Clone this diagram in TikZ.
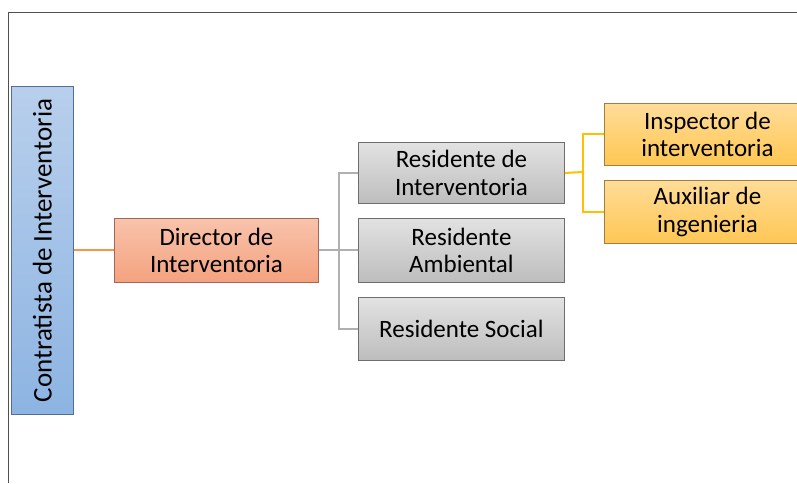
\documentclass[tikz,border=0pt]{standalone}
\usepackage{fontspec}
\setmainfont{Carlito}
\usetikzlibrary{positioning}
\definecolor{bluetop}{HTML}{B8CFEC}
\definecolor{bluebot}{HTML}{8DB4E2}
\definecolor{blueedge}{HTML}{4F6E99}
\definecolor{ortop}{HTML}{F8C3AC}
\definecolor{orbot}{HTML}{F4A27E}
\definecolor{oredge}{HTML}{A0675A}
\definecolor{graytop}{HTML}{E2E2E2}
\definecolor{graybot}{HTML}{BDBDBD}
\definecolor{grayedge}{HTML}{6E6E6E}
\definecolor{yeltop}{HTML}{FFDC98}
\definecolor{yelbot}{HTML}{FFC753}
\definecolor{yeledge}{HTML}{A08040}
\definecolor{orline}{HTML}{F79646}
\definecolor{grayline}{HTML}{B0B0B0}
\definecolor{yelline}{HTML}{FFC000}
\definecolor{frame}{HTML}{505050}
\tikzset{
  box/.style={draw, line width=0.9pt, anchor=north west, align=center, inner sep=0pt,
    font=\fontsize{25}{27.5}\selectfont, text=black},
  bluebox/.style={box, draw=blueedge, top color=bluetop, bottom color=bluebot},
  orbox/.style={box, draw=oredge, top color=ortop, bottom color=orbot},
  graybox/.style={box, draw=grayedge, top color=graytop, bottom color=graybot},
  yelbox/.style={box, draw=yeledge, top color=yeltop, bottom color=yelbot},
  link/.style={line width=2pt},
}
\begin{document}
\begin{tikzpicture}[x=1pt,y=-1pt]
\useasboundingbox (0,0) rectangle (797,483);
\begin{scope}
\clip (0,0) rectangle (797,483);
% frame
\draw[frame, line width=1pt] (8,483) -- (8,12) -- (797,12);
% boxes
\node[bluebox, minimum width=62pt, minimum height=328pt] (contr) at (11,86) {};
\node[rotate=90, font=\fontsize{27}{30}\selectfont] (contrtext) at (contr.center) {Contratista de Interventoria};
\node[orbox, minimum width=204pt, minimum height=64pt] (dir) at (114,218) {Director de\\Interventoria};
\node[graybox, minimum width=206pt, minimum height=61pt] (r1) at (358,142) {Residente de\\Interventoria};
\node[graybox, minimum width=206pt, minimum height=64pt] (r2) at (358,218) {Residente\\Ambiental};
\node[graybox, minimum width=206pt, minimum height=63pt] (r3) at (358,297) {Residente Social};
\node[yelbox, minimum width=206pt, minimum height=62pt] (y1) at (604,103) {Inspector de\\interventoria};
\node[yelbox, minimum width=206pt, minimum height=63pt] (y2) at (604,180) {Auxiliar de\\ingenieria};
% connectors
\coordinate (gbus) at (339,250);
\coordinate (ybus) at (583,172);
\draw[link, orline] (contr.east) -- (dir.west);
\draw[link, grayline] (dir.east) -- (r2.west);
\draw[link, grayline] (r1.west) -| (gbus) |- (r3.west);
\draw[link, yelline] (r1.east) -- (ybus);
\draw[link, yelline] (y1.west) -| (ybus) |- (y2.west);
\end{scope}
\end{tikzpicture}
\end{document}
